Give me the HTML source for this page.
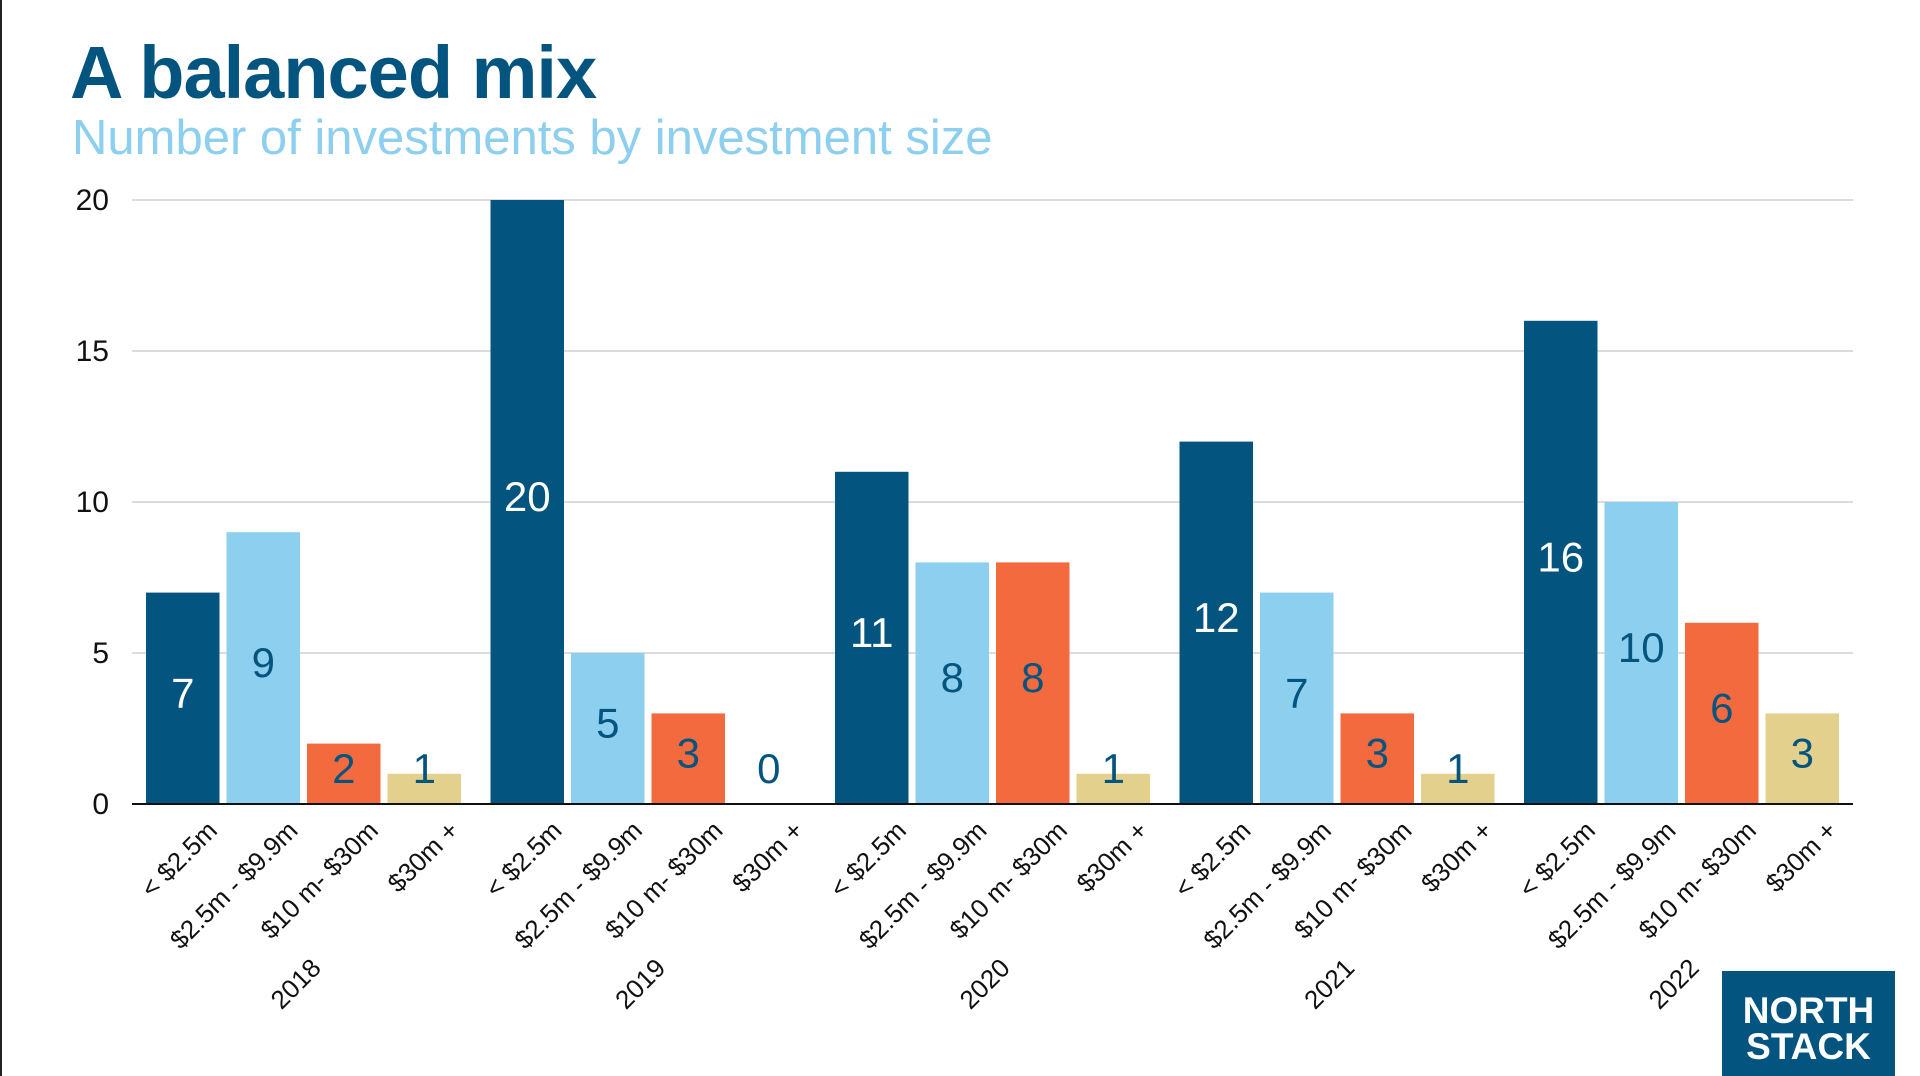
<!DOCTYPE html>
<html><head><meta charset="utf-8"><style>
body{margin:0;width:1920px;height:1076px;background:#fff;overflow:hidden;font-family:"Liberation Sans",sans-serif;position:relative}
#lb{position:absolute;left:0;top:0;width:2px;height:1076px;background:#222}
h1{position:absolute;left:70px;top:30px;margin:0;font-size:74px;font-weight:bold;color:#03547f;letter-spacing:-1px}
h2{position:absolute;left:72px;top:110px;margin:0;font-size:49px;font-weight:normal;color:#8ccfee}
#logo{position:absolute;left:1722px;top:971px;width:173px;height:105px;background:#03547f;color:#fff;font-weight:bold;font-size:37px;line-height:36px;text-align:center;padding-top:22px;box-sizing:border-box}
</style></head><body>
<div id="lb"></div>
<h1>A balanced mix</h1>
<h2>Number of investments by investment size</h2>
<svg id="c" width="1920" height="1076" style="position:absolute;left:0;top:0"></svg>
<div id="logo">NORTH<br>STACK</div>
<script>
const years=["2018","2019","2020","2021","2022"];
const sizes=["< $2.5m","$2.5m - $9.9m","$10 m- $30m","$30m +"];
const s1=[7,20,11,12,16];
const s2=[9,5,8,7,10];
const s3=[2,3,8,3,6];
const s4=[1,0,1,1,3];
const yTicks=[0,5,10,15,20];
const series=[s1,s2,s3,s4];
const colors=["#03547f","#8ccfee","#f26a3e","#e3d08c"];
const labelColors=["#fff","#03547f","#03547f","#03547f"];
const svg=document.getElementById('c');const NS="http://www.w3.org/2000/svg";
const y0=804,pxPer=30.2;
const Y=v=>y0-v*pxPer;
const X=(g,i)=>146+344.5*g+80.5*i;
function mk(t,a){const e=document.createElementNS(NS,t);for(const k in a)e.setAttribute(k,a[k]);svg.appendChild(e);return e;}
yTicks.forEach(t=>{
 if(t>0){const l=mk('line',{x1:132,x2:1853,y1:Y(t),y2:Y(t),stroke:'#c8c8c8','stroke-width':1.3});
 
 }
 const tx=mk('text',{x:109,y:Y(t)+10,'text-anchor':'end','font-size':30,fill:'#111'});tx.textContent=t;
 
 
});
years.forEach((yr,g)=>{
 series.forEach((s,i)=>{
  const v=s[g],x=X(g,i),w=73.5;
  const r=mk('rect',{x:x,y:Y(v),width:w,height:v*pxPer,fill:colors[i]});
  
  
  const cy=Math.min((Y(v)+y0)/2-6,y0-36);
  const t=mk('text',{x:x+w/2,y:cy+15,'text-anchor':'middle','font-size':42,fill:labelColors[i]});t.textContent=v;
  
  
  const cx=x+w/2+36,ty=832;
  const c=mk('text',{x:cx,y:ty,'text-anchor':'end','font-size':26,fill:'#111',transform:`rotate(-45 ${cx} ${ty})`});c.textContent=sizes[i];
  
  
 });
 const yx=X(g,1)+73.5+2,yy=990;
 const t=mk('text',{x:yx,y:yy,'text-anchor':'middle','font-size':26,fill:'#111',transform:`rotate(-45 ${yx} ${yy})`});t.textContent=yr;
 
 
});
const ax=mk('line',{x1:132,x2:1853,y1:y0,y2:y0,stroke:'#111','stroke-width':2});


</script>
</body></html>
